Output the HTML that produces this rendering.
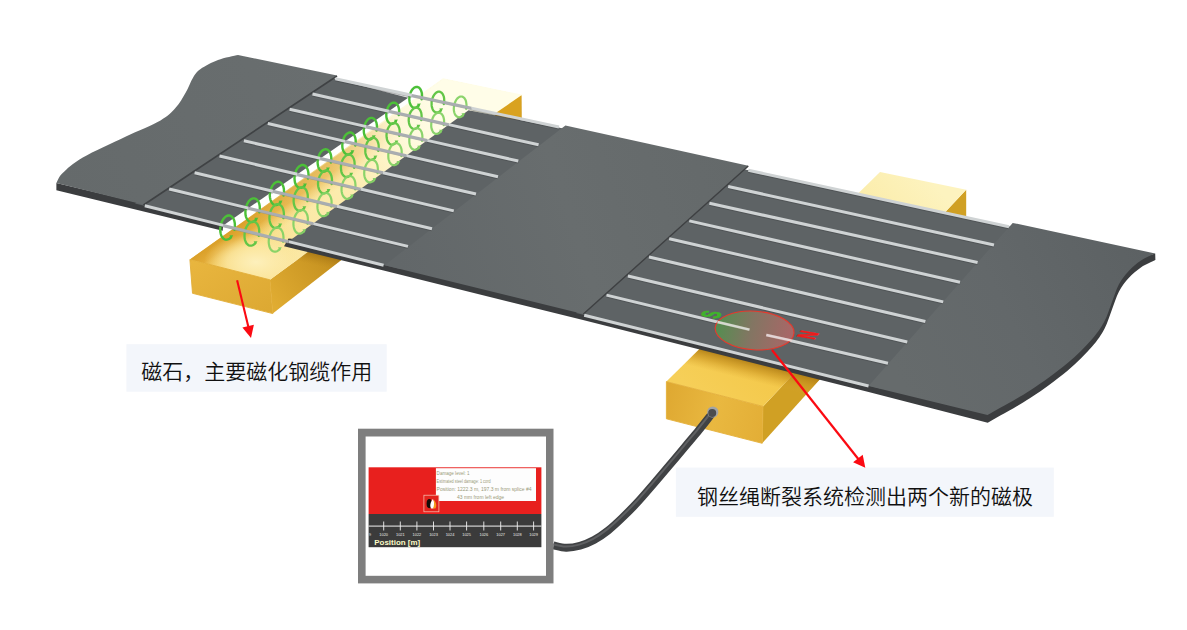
<!DOCTYPE html>
<html lang="zh-CN"><head><meta charset="utf-8"><title>钢丝绳断裂检测</title>
<style>
html,body{margin:0;padding:0;background:#ffffff;}
body{width:1187px;height:630px;overflow:hidden;font-family:"Liberation Sans","Noto Sans CJK SC",sans-serif;}
svg{display:block;}
</style></head><body>
<svg width="1187" height="630" viewBox="0 0 1187 630" role="img" aria-label="钢丝绳断裂检测示意图">
<defs>
<linearGradient id="gTopL" gradientUnits="userSpaceOnUse" x1="210" y1="262" x2="290" y2="285">
<stop offset="0" stop-color="#efc04c"/><stop offset="0.4" stop-color="#f8db80"/><stop offset="1" stop-color="#fbe6a0"/></linearGradient>
<linearGradient id="gShadL" gradientUnits="userSpaceOnUse" x1="298" y1="175" x2="318" y2="203.5">
<stop offset="0" stop-color="#d4971f" stop-opacity="1"/><stop offset="0.5" stop-color="#e2aa36" stop-opacity="0.95"/><stop offset="1" stop-color="#f2cf6a" stop-opacity="0"/></linearGradient>
<linearGradient id="gWashL" gradientUnits="userSpaceOnUse" x1="250" y1="235" x2="440" y2="100">
<stop offset="0" stop-color="#fff6c8" stop-opacity="0"/><stop offset="0.45" stop-color="#fff6c8" stop-opacity="0.35"/><stop offset="0.8" stop-color="#fffbe0" stop-opacity="0.95"/><stop offset="1" stop-color="#fffde8" stop-opacity="1"/></linearGradient>
<radialGradient id="gHiL" gradientUnits="userSpaceOnUse" cx="256" cy="262" r="52" gradientTransform="translate(256 262) scale(1 0.55) rotate(-12) translate(-256 -262)">
<stop offset="0" stop-color="#fdf0bc" stop-opacity="1"/><stop offset="0.55" stop-color="#fce9a6" stop-opacity="0.75"/><stop offset="1" stop-color="#fbe596" stop-opacity="0"/></radialGradient>
<linearGradient id="gFrontL" x1="0" y1="0" x2="1" y2="1">
<stop offset="0" stop-color="#e9b63f"/><stop offset="1" stop-color="#dca832"/></linearGradient>
<linearGradient id="gSideL" gradientUnits="userSpaceOnUse" x1="270" y1="300" x2="340" y2="250">
<stop offset="0" stop-color="#e0ac32"/><stop offset="1" stop-color="#c08c1c"/></linearGradient>
<linearGradient id="gTopR" gradientUnits="userSpaceOnUse" x1="700" y1="400" x2="930" y2="180">
<stop offset="0" stop-color="#f6cf58"/><stop offset="0.3" stop-color="#f3c646"/><stop offset="0.7" stop-color="#fae9a0"/><stop offset="1" stop-color="#fdf3bf"/></linearGradient>
<linearGradient id="gCoverL" gradientUnits="userSpaceOnUse" x1="60" y1="180" x2="330" y2="80">
<stop offset="0" stop-color="#656a6b"/><stop offset="1" stop-color="#696e6f"/></linearGradient>
<linearGradient id="gCoverR" gradientUnits="userSpaceOnUse" x1="900" y1="380" x2="1150" y2="260">
<stop offset="0" stop-color="#666b6c"/><stop offset="0.45" stop-color="#63686a"/><stop offset="1" stop-color="#5c6163"/></linearGradient>
<linearGradient id="gCoverC" gradientUnits="userSpaceOnUse" x1="400" y1="270" x2="740" y2="160">
<stop offset="0" stop-color="#626769"/><stop offset="0.5" stop-color="#686d6e"/><stop offset="1" stop-color="#64696a"/></linearGradient>
<linearGradient id="gEll" gradientUnits="userSpaceOnUse" x1="715" y1="325" x2="795" y2="337">
<stop offset="0" stop-color="#4f9a4a"/><stop offset="0.45" stop-color="#8c7a62"/><stop offset="1" stop-color="#c06668"/></linearGradient>
<linearGradient id="gShR" gradientUnits="userSpaceOnUse" x1="700" y1="347" x2="695" y2="367">
<stop offset="0" stop-color="#a87610" stop-opacity="0.95"/><stop offset="0.5" stop-color="#c8921e" stop-opacity="0.6"/><stop offset="1" stop-color="#d9a530" stop-opacity="0"/></linearGradient>
<linearGradient id="gShL" gradientUnits="userSpaceOnUse" x1="330" y1="255" x2="327" y2="268">
<stop offset="0" stop-color="#9a6c10" stop-opacity="0.8"/><stop offset="1" stop-color="#b8841a" stop-opacity="0"/></linearGradient>
<linearGradient id="gFrontR" gradientUnits="userSpaceOnUse" x1="666" y1="400" x2="766" y2="425">
<stop offset="0" stop-color="#dfa932"/><stop offset="0.5" stop-color="#e9b840"/><stop offset="1" stop-color="#e3ae36"/></linearGradient>
<clipPath id="cpR"><polygon points="666.4,381.6 763,406.4 762.2,443.3 966.2,217 966.2,189.8 880,172"/></clipPath>
<clipPath id="cpL"><polygon points="269.9,279.8 272.8,313.6 521.5,119 521.2,95.2"/></clipPath>
<linearGradient id="gWire" x1="0" y1="0" x2="0" y2="1">
<stop offset="0" stop-color="#5a5c5e"/><stop offset="1" stop-color="#2e3032"/></linearGradient>
</defs>
<rect width="1187" height="630" fill="#ffffff"/>
<polygon points="269.9,279.8 272.8,313.6 521.5,119.0 521.2,95.2" fill="url(#gSideL)"/>
<polygon points="189.9,259.5 269.9,279.8 521.2,95.2 443.2,79.0" fill="url(#gTopL)"/>
<polygon points="189.9,259.5 269.9,279.8 521.2,95.2 443.2,79.0" fill="url(#gShadL)"/>
<polygon points="189.9,259.5 269.9,279.8 521.2,95.2 443.2,79.0" fill="url(#gHiL)"/>
<polygon points="189.9,259.5 269.9,279.8 521.2,95.2 443.2,79.0" fill="url(#gWashL)" stroke="url(#gWashL)" stroke-width="1.4"/>
<polygon points="189.9,259.5 269.9,279.8 272.8,313.6 192.5,293.3" fill="url(#gFrontL)" stroke="#e2ae38" stroke-width="0.9" stroke-linejoin="round"/>
<polygon points="521.5,95.3 521.5,118.5 495.0,113.5" fill="#d9a21f"/>
<polygon points="763.0,406.4 762.2,443.3 966.2,217.0 966.2,189.8" fill="#d0a024"/>
<polygon points="666.4,381.6 763.0,406.4 966.2,189.8 880.0,172.0" fill="url(#gTopR)"/>
<polygon points="666.4,381.6 763.0,406.4 762.2,443.3 666.4,418.8" fill="url(#gFrontR)" stroke="#e4b03a" stroke-width="0.9" stroke-linejoin="round"/>
<g clip-path="url(#cpR)"><polygon points="586,316 868.6,390 868.6,414 586,340" fill="url(#gShR)"/></g>
<g clip-path="url(#cpL)"><polygon points="284,243 383.6,268 383.6,284 284,259" fill="url(#gShL)"/></g>
<path d="M56.4,183 L56.4,190.3 L222.7,230.7 L223.2,223.5 L144.8,204 Z" fill="#3b3d3f"/>
<path d="M288.5,238.6 L284.0,246.2 L383.6,270.6 L583,320 L868.6,392 L987.7,422.7 C994.8,418.6 1017.0,406.6 1030.2,398.0 C1043.5,389.4 1056.9,379.4 1067.2,370.9 C1077.5,362.3 1085.7,353.8 1091.9,346.8 C1098.1,339.7 1101.2,334.8 1104.5,328.7 C1107.8,322.5 1109.4,316.2 1111.8,310.0 C1114.2,303.8 1116.2,296.8 1119.0,291.4 C1121.8,286.1 1125.0,282.1 1128.7,278.0 C1132.4,274.0 1136.8,270.2 1141.2,267.2 C1145.7,264.2 1153.0,261.2 1155.4,260.0 L1155.2,253.4 L1000.0,300.0 Z" fill="#3b3d3f"/>
<polygon points="325.0,76.5 408.2,97.8 223.2,225.5 135.0,203.5" fill="#5e6365"/>
<polygon points="468.5,110.2 575.0,130.8 400.0,269.0 288.5,241.6" fill="#5e6365"/>
<polygon points="738.0,168.0 1020.0,229.0 880.0,388.5 576.0,313.0" fill="#5e6365"/>
<path d="M238.0,55.0 C234.7,55.8 224.2,57.7 218.0,60.0 C211.8,62.3 204.8,66.0 200.6,69.0 C196.4,72.0 195.5,73.7 193.0,77.7 C190.5,81.7 188.5,87.8 185.6,92.8 C182.7,97.8 179.8,103.2 175.6,107.8 C171.4,112.4 168.9,115.6 160.5,120.4 C152.1,125.2 138.3,130.5 125.4,136.7 C112.5,142.9 93.2,151.4 82.8,157.5 C72.3,163.6 67.1,168.8 62.7,173.0 C58.3,177.2 57.5,181.3 56.4,183.0 L143.0,204.6 L337.0,75.5 Z" fill="url(#gCoverL)"/>
<line x1="337" y1="76" x2="143.5" y2="205" stroke="#3f4244" stroke-width="1.6"/>
<polygon points="565.4,125.4 748.3,165.7 583.2,314.0 384.8,265.2" fill="url(#gCoverC)"/>
<line x1="748.3" y1="166" x2="583.4" y2="314" stroke="#3e4042" stroke-width="1.4"/>
<path d="M1012.7,222.9 L1155.2,253.4 C1152.8,254.6 1145.5,257.5 1141.0,260.5 C1136.5,263.5 1132.2,267.2 1128.5,271.2 C1124.8,275.2 1121.6,279.2 1118.8,284.5 C1116.0,289.8 1114.0,296.8 1111.6,303.0 C1109.2,309.2 1107.6,315.4 1104.3,321.5 C1101.0,327.6 1097.9,332.5 1091.7,339.5 C1085.5,346.5 1077.3,355.0 1067.0,363.5 C1056.7,372.0 1043.2,381.9 1030.0,390.5 C1016.8,399.1 994.6,411.0 987.5,415.1 L868.6,386.0 Z" fill="url(#gCoverR)"/>
<path d="M421.6,99.2 L421.9,97.3 L422.0,95.4 L421.9,93.5 L421.5,91.8 L421.0,90.3 L420.2,89.0 L419.4,88.0 L418.4,87.3 L417.3,86.9 L416.1,87.0 L414.9,87.3 L413.8,88.0 L412.7,89.1 L411.7,90.4 L410.9,91.9 L410.2,93.6 L409.7,95.5 L409.4,97.4 L409.3,99.3 L409.5,101.2 L409.8,102.9 L410.4,104.4 L411.1,105.7 L412.0,106.7 L413.0,107.4 L414.1,107.7 L415.2,107.7 L416.4,107.3 L417.6,106.6 L418.6,105.6" fill="none" stroke="#4cc038" stroke-width="2.4" stroke-opacity="1.0" stroke-linejoin="round" stroke-linecap="round"/>
<polygon points="417.0,103.7 420.8,103.6 418.8,107.2" fill="#4cc038" fill-opacity="1.0"/>
<path d="M443.8,104.0 L444.1,102.1 L444.2,100.1 L444.1,98.3 L443.8,96.6 L443.2,95.1 L442.5,93.8 L441.6,92.8 L440.6,92.1 L439.5,91.7 L438.3,91.7 L437.2,92.1 L436.0,92.8 L434.9,93.8 L434.0,95.2 L433.1,96.7 L432.4,98.4 L431.9,100.3 L431.6,102.2 L431.6,104.1 L431.7,105.9 L432.1,107.7 L432.6,109.2 L433.3,110.5 L434.2,111.5 L435.2,112.1 L436.3,112.5 L437.5,112.5 L438.6,112.1 L439.8,111.4 L440.9,110.3" fill="none" stroke="#63c647" stroke-width="2.3" stroke-opacity="1.0" stroke-linejoin="round" stroke-linecap="round"/>
<polygon points="439.3,108.4 443.1,108.3 441.1,111.9" fill="#63c647" fill-opacity="1.0"/>
<path d="M466.1,108.8 L466.4,106.9 L466.5,104.9 L466.3,103.1 L466.0,101.4 L465.5,99.8 L464.7,98.6 L463.8,97.6 L462.8,96.9 L461.7,96.5 L460.6,96.5 L459.4,96.9 L458.3,97.6 L457.2,98.6 L456.2,99.9 L455.4,101.5 L454.7,103.2 L454.2,105.1 L453.9,107.0 L453.8,108.9 L453.9,110.7 L454.3,112.5 L454.8,114.0 L455.6,115.3 L456.5,116.3 L457.5,116.9 L458.6,117.3 L459.7,117.3 L460.9,116.9 L462.0,116.2 L463.1,115.1" fill="none" stroke="#85d265" stroke-width="2.2" stroke-opacity="0.95" stroke-linejoin="round" stroke-linecap="round"/>
<polygon points="461.5,113.2 465.3,113.1 463.3,116.7" fill="#85d265" fill-opacity="0.95"/>
<path d="M398.8,115.1 L399.1,113.2 L399.2,111.2 L399.0,109.3 L398.7,107.6 L398.1,106.0 L397.4,104.7 L396.5,103.7 L395.5,103.0 L394.3,102.6 L393.2,102.7 L392.0,103.0 L390.8,103.7 L389.7,104.8 L388.7,106.1 L387.8,107.7 L387.1,109.5 L386.6,111.4 L386.3,113.3 L386.3,115.3 L386.4,117.1 L386.8,118.9 L387.3,120.4 L388.1,121.8 L389.0,122.8 L390.0,123.5 L391.1,123.8 L392.3,123.8 L393.5,123.4 L394.6,122.7 L395.7,121.6" fill="none" stroke="#4cc038" stroke-width="2.4" stroke-opacity="1.0" stroke-linejoin="round" stroke-linecap="round"/>
<polygon points="394.1,119.7 397.9,119.6 395.9,123.2" fill="#4cc038" fill-opacity="1.0"/>
<path d="M421.3,120.2 L421.6,118.2 L421.6,116.3 L421.5,114.4 L421.2,112.6 L420.6,111.1 L419.9,109.8 L419.0,108.7 L417.9,108.0 L416.8,107.7 L415.6,107.7 L414.4,108.1 L413.3,108.8 L412.2,109.8 L411.2,111.2 L410.3,112.7 L409.6,114.5 L409.1,116.4 L408.8,118.4 L408.7,120.3 L408.9,122.2 L409.2,123.9 L409.8,125.5 L410.5,126.8 L411.4,127.8 L412.5,128.5 L413.6,128.9 L414.8,128.8 L416.0,128.5 L417.1,127.7 L418.2,126.7" fill="none" stroke="#63c647" stroke-width="2.3" stroke-opacity="1.0" stroke-linejoin="round" stroke-linecap="round"/>
<polygon points="416.6,124.8 420.4,124.7 418.4,128.3" fill="#63c647" fill-opacity="1.0"/>
<path d="M443.7,125.2 L444.0,123.3 L444.1,121.3 L444.0,119.4 L443.6,117.7 L443.1,116.1 L442.3,114.8 L441.4,113.8 L440.4,113.1 L439.3,112.7 L438.1,112.8 L436.9,113.1 L435.8,113.8 L434.6,114.9 L433.6,116.2 L432.8,117.8 L432.1,119.6 L431.6,121.5 L431.3,123.4 L431.2,125.4 L431.3,127.2 L431.7,129.0 L432.3,130.5 L433.0,131.9 L433.9,132.9 L434.9,133.6 L436.1,133.9 L437.2,133.9 L438.4,133.5 L439.6,132.8 L440.7,131.7" fill="none" stroke="#85d265" stroke-width="2.2" stroke-opacity="0.95" stroke-linejoin="round" stroke-linecap="round"/>
<polygon points="439.1,129.8 442.9,129.7 440.9,133.3" fill="#85d265" fill-opacity="0.95"/>
<path d="M376.6,130.6 L376.9,128.6 L377.0,126.7 L376.8,124.7 L376.5,122.9 L375.9,121.4 L375.1,120.0 L374.2,119.0 L373.2,118.3 L372.0,117.9 L370.8,117.9 L369.6,118.3 L368.4,119.0 L367.3,120.1 L366.3,121.5 L365.4,123.1 L364.7,124.9 L364.2,126.8 L363.9,128.8 L363.8,130.8 L363.9,132.7 L364.3,134.5 L364.9,136.1 L365.6,137.4 L366.5,138.4 L367.6,139.1 L368.7,139.5 L369.9,139.5 L371.2,139.1 L372.3,138.3 L373.5,137.3" fill="none" stroke="#4cc038" stroke-width="2.4" stroke-opacity="1.0" stroke-linejoin="round" stroke-linecap="round"/>
<polygon points="371.9,135.4 375.7,135.3 373.7,138.9" fill="#4cc038" fill-opacity="1.0"/>
<path d="M399.3,135.8 L399.6,133.8 L399.7,131.8 L399.6,129.9 L399.2,128.1 L398.6,126.5 L397.9,125.2 L397.0,124.1 L395.9,123.4 L394.8,123.1 L393.6,123.1 L392.4,123.4 L391.2,124.2 L390.0,125.2 L389.0,126.6 L388.1,128.2 L387.4,130.0 L386.9,131.9 L386.6,133.9 L386.5,135.9 L386.7,137.8 L387.0,139.6 L387.6,141.2 L388.4,142.5 L389.3,143.6 L390.3,144.3 L391.5,144.6 L392.7,144.6 L393.9,144.2 L395.1,143.5 L396.2,142.4" fill="none" stroke="#63c647" stroke-width="2.3" stroke-opacity="1.0" stroke-linejoin="round" stroke-linecap="round"/>
<polygon points="394.6,140.5 398.4,140.4 396.4,144.0" fill="#63c647" fill-opacity="1.0"/>
<path d="M422.0,140.9 L422.3,138.9 L422.4,137.0 L422.3,135.0 L421.9,133.2 L421.4,131.7 L420.6,130.3 L419.7,129.3 L418.7,128.6 L417.5,128.2 L416.3,128.2 L415.1,128.6 L413.9,129.3 L412.8,130.4 L411.8,131.8 L410.9,133.4 L410.2,135.2 L409.6,137.1 L409.3,139.1 L409.3,141.1 L409.4,143.0 L409.8,144.8 L410.3,146.4 L411.1,147.7 L412.0,148.7 L413.1,149.4 L414.2,149.8 L415.4,149.8 L416.6,149.4 L417.8,148.6 L418.9,147.6" fill="none" stroke="#85d265" stroke-width="2.2" stroke-opacity="0.95" stroke-linejoin="round" stroke-linecap="round"/>
<polygon points="417.3,145.7 421.1,145.6 419.1,149.2" fill="#85d265" fill-opacity="0.95"/>
<path d="M355.3,145.5 L355.6,143.5 L355.7,141.4 L355.6,139.5 L355.2,137.6 L354.6,136.0 L353.9,134.7 L352.9,133.6 L351.9,132.9 L350.7,132.5 L349.5,132.5 L348.2,132.9 L347.0,133.7 L345.9,134.7 L344.8,136.1 L343.9,137.8 L343.2,139.6 L342.7,141.6 L342.4,143.6 L342.3,145.6 L342.4,147.6 L342.8,149.4 L343.4,151.0 L344.2,152.4 L345.1,153.4 L346.2,154.2 L347.3,154.5 L348.6,154.5 L349.8,154.1 L351.0,153.3 L352.2,152.2" fill="none" stroke="#4cc038" stroke-width="2.4" stroke-opacity="1.0" stroke-linejoin="round" stroke-linecap="round"/>
<polygon points="350.6,150.3 354.4,150.2 352.4,153.8" fill="#4cc038" fill-opacity="1.0"/>
<path d="M378.3,150.8 L378.6,148.8 L378.7,146.7 L378.6,144.8 L378.2,143.0 L377.6,141.3 L376.9,140.0 L375.9,138.9 L374.9,138.2 L373.7,137.8 L372.5,137.8 L371.2,138.2 L370.0,139.0 L368.9,140.1 L367.8,141.4 L366.9,143.1 L366.2,144.9 L365.7,146.9 L365.4,148.9 L365.3,150.9 L365.4,152.9 L365.8,154.7 L366.4,156.3 L367.1,157.7 L368.1,158.8 L369.2,159.5 L370.3,159.8 L371.5,159.8 L372.8,159.4 L374.0,158.7 L375.1,157.6" fill="none" stroke="#63c647" stroke-width="2.3" stroke-opacity="1.0" stroke-linejoin="round" stroke-linecap="round"/>
<polygon points="373.5,155.7 377.3,155.6 375.3,159.2" fill="#63c647" fill-opacity="1.0"/>
<path d="M401.3,156.1 L401.6,154.1 L401.7,152.1 L401.6,150.1 L401.2,148.3 L400.6,146.7 L399.8,145.3 L398.9,144.2 L397.8,143.5 L396.7,143.1 L395.5,143.2 L394.2,143.5 L393.0,144.3 L391.8,145.4 L390.8,146.8 L389.9,148.4 L389.2,150.2 L388.7,152.2 L388.3,154.2 L388.3,156.3 L388.4,158.2 L388.8,160.0 L389.4,161.7 L390.1,163.0 L391.1,164.1 L392.1,164.8 L393.3,165.2 L394.5,165.1 L395.8,164.7 L397.0,164.0 L398.1,162.9" fill="none" stroke="#85d265" stroke-width="2.2" stroke-opacity="0.95" stroke-linejoin="round" stroke-linecap="round"/>
<polygon points="396.5,161.0 400.3,160.9 398.3,164.5" fill="#85d265" fill-opacity="0.95"/>
<path d="M330.9,162.5 L331.2,160.4 L331.3,158.3 L331.2,156.4 L330.8,154.5 L330.2,152.8 L329.4,151.5 L328.5,150.4 L327.4,149.6 L326.2,149.3 L325.0,149.3 L323.7,149.7 L322.5,150.4 L321.3,151.5 L320.2,152.9 L319.3,154.6 L318.6,156.5 L318.0,158.5 L317.7,160.6 L317.6,162.6 L317.8,164.6 L318.2,166.5 L318.7,168.1 L319.5,169.5 L320.5,170.6 L321.6,171.3 L322.8,171.7 L324.0,171.7 L325.3,171.3 L326.5,170.5 L327.7,169.4" fill="none" stroke="#4cc038" stroke-width="2.4" stroke-opacity="1.0" stroke-linejoin="round" stroke-linecap="round"/>
<polygon points="326.1,167.5 329.9,167.4 327.9,171.0" fill="#4cc038" fill-opacity="1.0"/>
<path d="M354.2,167.8 L354.5,165.8 L354.6,163.7 L354.5,161.7 L354.1,159.8 L353.5,158.2 L352.7,156.8 L351.8,155.7 L350.7,155.0 L349.5,154.6 L348.2,154.6 L347.0,155.0 L345.7,155.8 L344.6,156.9 L343.5,158.3 L342.6,159.9 L341.8,161.8 L341.3,163.8 L341.0,165.9 L340.9,168.0 L341.1,170.0 L341.4,171.8 L342.0,173.5 L342.8,174.8 L343.8,175.9 L344.9,176.7 L346.0,177.0 L347.3,177.0 L348.6,176.6 L349.8,175.8 L351.0,174.7" fill="none" stroke="#63c647" stroke-width="2.3" stroke-opacity="1.0" stroke-linejoin="round" stroke-linecap="round"/>
<polygon points="349.4,172.8 353.2,172.7 351.2,176.3" fill="#63c647" fill-opacity="1.0"/>
<path d="M377.5,173.2 L377.8,171.1 L377.9,169.0 L377.7,167.0 L377.4,165.2 L376.8,163.5 L376.0,162.1 L375.0,161.0 L373.9,160.3 L372.8,159.9 L371.5,159.9 L370.2,160.3 L369.0,161.1 L367.8,162.2 L366.8,163.6 L365.9,165.3 L365.1,167.2 L364.6,169.2 L364.3,171.2 L364.2,173.3 L364.3,175.3 L364.7,177.1 L365.3,178.8 L366.1,180.2 L367.0,181.3 L368.1,182.0 L369.3,182.4 L370.6,182.3 L371.8,181.9 L373.1,181.2 L374.2,180.0" fill="none" stroke="#85d265" stroke-width="2.2" stroke-opacity="0.95" stroke-linejoin="round" stroke-linecap="round"/>
<polygon points="372.6,178.1 376.4,178.0 374.4,181.6" fill="#85d265" fill-opacity="0.95"/>
<path d="M308.0,178.5 L308.4,176.4 L308.5,174.2 L308.3,172.2 L307.9,170.3 L307.3,168.6 L306.5,167.2 L305.6,166.1 L304.4,165.4 L303.2,165.0 L302.0,165.0 L300.7,165.4 L299.4,166.2 L298.2,167.3 L297.1,168.7 L296.2,170.4 L295.5,172.3 L294.9,174.4 L294.6,176.5 L294.5,178.6 L294.7,180.6 L295.0,182.5 L295.6,184.2 L296.4,185.6 L297.4,186.7 L298.5,187.5 L299.7,187.8 L301.0,187.8 L302.3,187.4 L303.6,186.6 L304.7,185.5" fill="none" stroke="#4cc038" stroke-width="2.4" stroke-opacity="1.0" stroke-linejoin="round" stroke-linecap="round"/>
<polygon points="303.1,183.6 306.9,183.5 304.9,187.1" fill="#4cc038" fill-opacity="1.0"/>
<path d="M331.6,184.0 L331.9,181.9 L332.0,179.8 L331.8,177.7 L331.4,175.8 L330.8,174.1 L330.0,172.7 L329.1,171.6 L328.0,170.9 L326.8,170.5 L325.5,170.5 L324.2,170.9 L322.9,171.7 L321.7,172.8 L320.7,174.3 L319.7,176.0 L319.0,177.9 L318.4,179.9 L318.1,182.0 L318.0,184.1 L318.2,186.2 L318.6,188.0 L319.2,189.7 L320.0,191.1 L320.9,192.2 L322.0,193.0 L323.3,193.3 L324.5,193.3 L325.8,192.9 L327.1,192.1 L328.3,191.0" fill="none" stroke="#63c647" stroke-width="2.3" stroke-opacity="1.0" stroke-linejoin="round" stroke-linecap="round"/>
<polygon points="326.7,189.1 330.5,189.0 328.5,192.6" fill="#63c647" fill-opacity="1.0"/>
<path d="M355.1,189.5 L355.4,187.4 L355.5,185.3 L355.3,183.2 L355.0,181.3 L354.4,179.7 L353.6,178.2 L352.6,177.1 L351.5,176.4 L350.3,176.0 L349.0,176.0 L347.7,176.4 L346.5,177.2 L345.3,178.3 L344.2,179.8 L343.3,181.5 L342.5,183.4 L342.0,185.4 L341.6,187.5 L341.5,189.6 L341.7,191.7 L342.1,193.6 L342.7,195.2 L343.5,196.6 L344.5,197.7 L345.6,198.5 L346.8,198.9 L348.0,198.8 L349.3,198.4 L350.6,197.6 L351.8,196.5" fill="none" stroke="#85d265" stroke-width="2.2" stroke-opacity="0.95" stroke-linejoin="round" stroke-linecap="round"/>
<polygon points="350.2,194.6 354.0,194.5 352.0,198.1" fill="#85d265" fill-opacity="0.95"/>
<path d="M283.6,195.5 L284.0,193.3 L284.0,191.2 L283.9,189.1 L283.5,187.2 L282.9,185.5 L282.1,184.0 L281.1,182.9 L280.0,182.1 L278.7,181.8 L277.4,181.8 L276.1,182.2 L274.8,183.0 L273.6,184.1 L272.5,185.6 L271.6,187.3 L270.8,189.3 L270.3,191.3 L269.9,193.5 L269.8,195.6 L270.0,197.7 L270.4,199.6 L271.0,201.3 L271.8,202.8 L272.8,203.9 L273.9,204.7 L275.2,205.0 L276.5,205.0 L277.8,204.6 L279.1,203.8 L280.3,202.6" fill="none" stroke="#4cc038" stroke-width="2.4" stroke-opacity="1.0" stroke-linejoin="round" stroke-linecap="round"/>
<polygon points="278.7,200.7 282.5,200.6 280.5,204.2" fill="#4cc038" fill-opacity="1.0"/>
<path d="M307.4,201.1 L307.7,198.9 L307.8,196.8 L307.7,194.7 L307.3,192.8 L306.7,191.1 L305.9,189.6 L304.9,188.5 L303.8,187.7 L302.5,187.4 L301.2,187.4 L299.9,187.8 L298.6,188.6 L297.4,189.7 L296.3,191.2 L295.4,192.9 L294.6,194.9 L294.0,196.9 L293.7,199.1 L293.6,201.2 L293.8,203.3 L294.2,205.2 L294.8,206.9 L295.6,208.4 L296.6,209.5 L297.7,210.3 L299.0,210.6 L300.3,210.6 L301.6,210.2 L302.9,209.4 L304.1,208.2" fill="none" stroke="#63c647" stroke-width="2.3" stroke-opacity="1.0" stroke-linejoin="round" stroke-linecap="round"/>
<polygon points="302.5,206.3 306.3,206.2 304.3,209.8" fill="#63c647" fill-opacity="1.0"/>
<path d="M331.2,206.7 L331.5,204.5 L331.6,202.4 L331.5,200.3 L331.1,198.4 L330.5,196.7 L329.7,195.2 L328.7,194.1 L327.5,193.3 L326.3,193.0 L325.0,193.0 L323.7,193.4 L322.4,194.2 L321.2,195.3 L320.1,196.8 L319.2,198.5 L318.4,200.5 L317.8,202.5 L317.5,204.7 L317.4,206.8 L317.6,208.9 L318.0,210.8 L318.6,212.5 L319.4,214.0 L320.4,215.1 L321.5,215.9 L322.7,216.2 L324.0,216.2 L325.4,215.8 L326.6,215.0 L327.9,213.8" fill="none" stroke="#85d265" stroke-width="2.2" stroke-opacity="0.95" stroke-linejoin="round" stroke-linecap="round"/>
<polygon points="326.3,211.9 330.1,211.8 328.1,215.4" fill="#85d265" fill-opacity="0.95"/>
<path d="M259.4,212.4 L259.7,210.2 L259.8,208.0 L259.7,205.9 L259.3,203.9 L258.7,202.2 L257.8,200.7 L256.8,199.6 L255.7,198.8 L254.4,198.4 L253.1,198.4 L251.8,198.8 L250.5,199.6 L249.2,200.8 L248.1,202.3 L247.1,204.1 L246.4,206.0 L245.8,208.2 L245.5,210.3 L245.4,212.5 L245.5,214.6 L245.9,216.6 L246.6,218.3 L247.4,219.8 L248.4,220.9 L249.5,221.7 L250.8,222.1 L252.1,222.1 L253.5,221.7 L254.8,220.8 L256.0,219.7" fill="none" stroke="#4cc038" stroke-width="2.4" stroke-opacity="1.0" stroke-linejoin="round" stroke-linecap="round"/>
<polygon points="254.4,217.8 258.2,217.7 256.2,221.3" fill="#4cc038" fill-opacity="1.0"/>
<path d="M283.4,218.2 L283.8,216.0 L283.9,213.8 L283.7,211.7 L283.3,209.7 L282.7,208.0 L281.9,206.5 L280.9,205.4 L279.7,204.6 L278.5,204.2 L277.1,204.2 L275.8,204.6 L274.5,205.4 L273.3,206.6 L272.1,208.1 L271.2,209.8 L270.4,211.8 L269.8,213.9 L269.5,216.1 L269.4,218.3 L269.6,220.4 L270.0,222.4 L270.6,224.1 L271.4,225.6 L272.4,226.7 L273.6,227.5 L274.8,227.9 L276.2,227.9 L277.5,227.4 L278.8,226.6 L280.0,225.4" fill="none" stroke="#63c647" stroke-width="2.3" stroke-opacity="1.0" stroke-linejoin="round" stroke-linecap="round"/>
<polygon points="278.4,223.5 282.2,223.4 280.2,227.0" fill="#63c647" fill-opacity="1.0"/>
<path d="M307.5,223.9 L307.8,221.7 L307.9,219.6 L307.8,217.5 L307.4,215.5 L306.7,213.7 L305.9,212.3 L304.9,211.1 L303.8,210.3 L302.5,210.0 L301.2,210.0 L299.8,210.4 L298.5,211.2 L297.3,212.4 L296.2,213.9 L295.2,215.6 L294.4,217.6 L293.9,219.7 L293.5,221.9 L293.4,224.1 L293.6,226.2 L294.0,228.1 L294.6,229.9 L295.5,231.4 L296.5,232.5 L297.6,233.3 L298.9,233.7 L300.2,233.6 L301.5,233.2 L302.8,232.4 L304.1,231.2" fill="none" stroke="#85d265" stroke-width="2.2" stroke-opacity="0.95" stroke-linejoin="round" stroke-linecap="round"/>
<polygon points="302.5,229.3 306.3,229.2 304.3,232.8" fill="#85d265" fill-opacity="0.95"/>
<path d="M234.5,229.8 L234.8,227.5 L234.9,225.3 L234.8,223.2 L234.4,221.2 L233.8,219.4 L232.9,217.9 L231.9,216.7 L230.7,215.9 L229.4,215.5 L228.1,215.5 L226.7,216.0 L225.4,216.8 L224.2,218.0 L223.0,219.5 L222.0,221.3 L221.2,223.3 L220.7,225.5 L220.3,227.7 L220.2,229.9 L220.4,232.1 L220.8,234.1 L221.4,235.8 L222.3,237.3 L223.3,238.5 L224.5,239.3 L225.8,239.7 L227.1,239.6 L228.5,239.2 L229.8,238.4 L231.0,237.2" fill="none" stroke="#4cc038" stroke-width="2.4" stroke-opacity="1.0" stroke-linejoin="round" stroke-linecap="round"/>
<polygon points="229.4,235.3 233.2,235.2 231.2,238.8" fill="#4cc038" fill-opacity="1.0"/>
<path d="M258.8,235.8 L259.1,233.6 L259.2,231.3 L259.1,229.2 L258.7,227.2 L258.0,225.4 L257.2,223.9 L256.2,222.8 L255.0,222.0 L253.7,221.6 L252.4,221.6 L251.0,222.0 L249.7,222.8 L248.4,224.0 L247.3,225.5 L246.3,227.3 L245.5,229.3 L244.9,231.5 L244.6,233.7 L244.5,235.9 L244.6,238.1 L245.0,240.1 L245.7,241.9 L246.5,243.4 L247.6,244.5 L248.7,245.3 L250.0,245.7 L251.4,245.7 L252.7,245.2 L254.0,244.4 L255.3,243.2" fill="none" stroke="#63c647" stroke-width="2.3" stroke-opacity="1.0" stroke-linejoin="round" stroke-linecap="round"/>
<polygon points="253.7,241.3 257.5,241.2 255.5,244.8" fill="#63c647" fill-opacity="1.0"/>
<path d="M283.0,241.8 L283.4,239.6 L283.5,237.4 L283.3,235.2 L282.9,233.2 L282.3,231.5 L281.4,230.0 L280.4,228.8 L279.2,228.0 L278.0,227.6 L276.6,227.6 L275.3,228.0 L273.9,228.9 L272.7,230.1 L271.5,231.6 L270.6,233.4 L269.8,235.4 L269.2,237.5 L268.8,239.8 L268.7,242.0 L268.9,244.1 L269.3,246.1 L269.9,247.9 L270.8,249.4 L271.8,250.5 L273.0,251.3 L274.3,251.7 L275.6,251.7 L277.0,251.3 L278.3,250.4 L279.6,249.2" fill="none" stroke="#85d265" stroke-width="2.2" stroke-opacity="0.95" stroke-linejoin="round" stroke-linecap="round"/>
<polygon points="278.0,247.3 281.8,247.2 279.8,250.8" fill="#85d265" fill-opacity="0.95"/>
<line x1="335.3" y1="80.0" x2="411.8" y2="96.5" stroke="#3a3c3e" stroke-width="2.6" stroke-opacity="0.4"/>
<line x1="335.3" y1="78.8" x2="411.8" y2="95.3" stroke="#cfd3d4" stroke-width="3.0"/>
<line x1="471.4" y1="109.3" x2="559.0" y2="128.2" stroke="#3a3c3e" stroke-width="2.6" stroke-opacity="0.4"/>
<line x1="471.4" y1="108.1" x2="559.0" y2="127.0" stroke="#cfd3d4" stroke-width="3.0"/>
<line x1="411.8" y1="96.4" x2="471.4" y2="109.2" stroke="#8a8e92" stroke-width="1.6" stroke-opacity="0.7"/>
<line x1="411.8" y1="95.3" x2="471.4" y2="108.1" stroke="#a9adb1" stroke-width="2.8"/>
<line x1="312.5" y1="95.2" x2="388.9" y2="112.4" stroke="#3a3c3e" stroke-width="2.6" stroke-opacity="0.4"/>
<line x1="312.5" y1="94.0" x2="388.9" y2="111.2" stroke="#cfd3d4" stroke-width="3.0"/>
<line x1="448.8" y1="125.8" x2="538.6" y2="146.0" stroke="#3a3c3e" stroke-width="2.6" stroke-opacity="0.4"/>
<line x1="448.8" y1="124.6" x2="538.6" y2="144.8" stroke="#cfd3d4" stroke-width="3.0"/>
<line x1="388.9" y1="112.3" x2="448.8" y2="125.7" stroke="#8a8e92" stroke-width="1.6" stroke-opacity="0.7"/>
<line x1="388.9" y1="111.2" x2="448.8" y2="124.6" stroke="#a9adb1" stroke-width="2.8"/>
<line x1="289.6" y1="110.4" x2="366.5" y2="127.8" stroke="#3a3c3e" stroke-width="2.6" stroke-opacity="0.4"/>
<line x1="289.6" y1="109.2" x2="366.5" y2="126.6" stroke="#cfd3d4" stroke-width="3.0"/>
<line x1="427.2" y1="141.6" x2="518.3" y2="162.2" stroke="#3a3c3e" stroke-width="2.6" stroke-opacity="0.4"/>
<line x1="427.2" y1="140.4" x2="518.3" y2="161.0" stroke="#cfd3d4" stroke-width="3.0"/>
<line x1="366.5" y1="127.7" x2="427.2" y2="141.5" stroke="#8a8e92" stroke-width="1.6" stroke-opacity="0.7"/>
<line x1="366.5" y1="126.6" x2="427.2" y2="140.4" stroke="#a9adb1" stroke-width="2.8"/>
<line x1="267.8" y1="124.7" x2="345.1" y2="142.6" stroke="#3a3c3e" stroke-width="2.6" stroke-opacity="0.4"/>
<line x1="267.8" y1="123.5" x2="345.1" y2="141.4" stroke="#cfd3d4" stroke-width="3.0"/>
<line x1="406.3" y1="156.8" x2="498.0" y2="178.0" stroke="#3a3c3e" stroke-width="2.6" stroke-opacity="0.4"/>
<line x1="406.3" y1="155.6" x2="498.0" y2="176.8" stroke="#cfd3d4" stroke-width="3.0"/>
<line x1="345.1" y1="142.5" x2="406.3" y2="156.7" stroke="#8a8e92" stroke-width="1.6" stroke-opacity="0.7"/>
<line x1="345.1" y1="141.4" x2="406.3" y2="155.6" stroke="#a9adb1" stroke-width="2.8"/>
<line x1="243.9" y1="142.0" x2="320.5" y2="159.6" stroke="#3a3c3e" stroke-width="2.6" stroke-opacity="0.4"/>
<line x1="243.9" y1="140.8" x2="320.5" y2="158.4" stroke="#cfd3d4" stroke-width="3.0"/>
<line x1="382.9" y1="173.9" x2="476.0" y2="195.2" stroke="#3a3c3e" stroke-width="2.6" stroke-opacity="0.4"/>
<line x1="382.9" y1="172.7" x2="476.0" y2="194.0" stroke="#cfd3d4" stroke-width="3.0"/>
<line x1="320.5" y1="159.5" x2="382.9" y2="173.8" stroke="#8a8e92" stroke-width="1.6" stroke-opacity="0.7"/>
<line x1="320.5" y1="158.4" x2="382.9" y2="172.7" stroke="#a9adb1" stroke-width="2.8"/>
<line x1="219.5" y1="157.2" x2="297.4" y2="175.5" stroke="#3a3c3e" stroke-width="2.6" stroke-opacity="0.4"/>
<line x1="219.5" y1="156.0" x2="297.4" y2="174.3" stroke="#cfd3d4" stroke-width="3.0"/>
<line x1="360.5" y1="190.2" x2="453.8" y2="212.1" stroke="#3a3c3e" stroke-width="2.6" stroke-opacity="0.4"/>
<line x1="360.5" y1="189.0" x2="453.8" y2="210.9" stroke="#cfd3d4" stroke-width="3.0"/>
<line x1="297.4" y1="175.4" x2="360.5" y2="190.1" stroke="#8a8e92" stroke-width="1.6" stroke-opacity="0.7"/>
<line x1="297.4" y1="174.3" x2="360.5" y2="189.0" stroke="#a9adb1" stroke-width="2.8"/>
<line x1="194.6" y1="174.0" x2="272.9" y2="192.4" stroke="#3a3c3e" stroke-width="2.6" stroke-opacity="0.4"/>
<line x1="194.6" y1="172.8" x2="272.9" y2="191.2" stroke="#cfd3d4" stroke-width="3.0"/>
<line x1="336.9" y1="207.5" x2="432.0" y2="229.9" stroke="#3a3c3e" stroke-width="2.6" stroke-opacity="0.4"/>
<line x1="336.9" y1="206.3" x2="432.0" y2="228.7" stroke="#cfd3d4" stroke-width="3.0"/>
<line x1="272.9" y1="192.3" x2="336.9" y2="207.4" stroke="#8a8e92" stroke-width="1.6" stroke-opacity="0.7"/>
<line x1="272.9" y1="191.2" x2="336.9" y2="206.3" stroke="#a9adb1" stroke-width="2.8"/>
<line x1="169.2" y1="190.2" x2="248.5" y2="209.3" stroke="#3a3c3e" stroke-width="2.6" stroke-opacity="0.4"/>
<line x1="169.2" y1="189.0" x2="248.5" y2="208.1" stroke="#cfd3d4" stroke-width="3.0"/>
<line x1="313.2" y1="224.8" x2="408.0" y2="247.6" stroke="#3a3c3e" stroke-width="2.6" stroke-opacity="0.4"/>
<line x1="313.2" y1="223.6" x2="408.0" y2="246.4" stroke="#cfd3d4" stroke-width="3.0"/>
<line x1="248.5" y1="209.2" x2="313.2" y2="224.7" stroke="#8a8e92" stroke-width="1.6" stroke-opacity="0.7"/>
<line x1="248.5" y1="208.1" x2="313.2" y2="223.6" stroke="#a9adb1" stroke-width="2.8"/>
<line x1="144.8" y1="207.0" x2="223.4" y2="226.6" stroke="#3a3c3e" stroke-width="2.6" stroke-opacity="0.4"/>
<line x1="144.8" y1="205.8" x2="223.4" y2="225.4" stroke="#cfd3d4" stroke-width="3.0"/>
<line x1="288.6" y1="242.8" x2="383.6" y2="266.4" stroke="#3a3c3e" stroke-width="2.6" stroke-opacity="0.4"/>
<line x1="288.6" y1="241.6" x2="383.6" y2="265.2" stroke="#cfd3d4" stroke-width="3.0"/>
<line x1="223.4" y1="226.5" x2="288.6" y2="242.7" stroke="#8a8e92" stroke-width="1.6" stroke-opacity="0.7"/>
<line x1="223.4" y1="225.4" x2="288.6" y2="241.6" stroke="#a9adb1" stroke-width="2.8"/>
<line x1="748.3" y1="171.4" x2="1009.0" y2="227.9" stroke="#3a3c3e" stroke-width="2.6" stroke-opacity="0.4"/>
<line x1="748.3" y1="170.2" x2="1009.0" y2="226.7" stroke="#cfd3d4" stroke-width="3.0"/>
<line x1="728.2" y1="187.7" x2="994.0" y2="246.2" stroke="#3a3c3e" stroke-width="2.6" stroke-opacity="0.4"/>
<line x1="728.2" y1="186.5" x2="994.0" y2="245.0" stroke="#cfd3d4" stroke-width="3.0"/>
<line x1="709.4" y1="204.5" x2="977.6" y2="263.7" stroke="#3a3c3e" stroke-width="2.6" stroke-opacity="0.4"/>
<line x1="709.4" y1="203.3" x2="977.6" y2="262.5" stroke="#cfd3d4" stroke-width="3.0"/>
<line x1="689.3" y1="222.1" x2="960.0" y2="283.5" stroke="#3a3c3e" stroke-width="2.6" stroke-opacity="0.4"/>
<line x1="689.3" y1="220.9" x2="960.0" y2="282.3" stroke="#cfd3d4" stroke-width="3.0"/>
<line x1="669.2" y1="239.9" x2="943.2" y2="303.1" stroke="#3a3c3e" stroke-width="2.6" stroke-opacity="0.4"/>
<line x1="669.2" y1="238.7" x2="943.2" y2="301.9" stroke="#cfd3d4" stroke-width="3.0"/>
<line x1="649.0" y1="258.2" x2="925.4" y2="322.7" stroke="#3a3c3e" stroke-width="2.6" stroke-opacity="0.4"/>
<line x1="649.0" y1="257.0" x2="925.4" y2="321.5" stroke="#cfd3d4" stroke-width="3.0"/>
<line x1="627.9" y1="277.2" x2="907.3" y2="343.2" stroke="#3a3c3e" stroke-width="2.6" stroke-opacity="0.4"/>
<line x1="627.9" y1="276.0" x2="907.3" y2="342.0" stroke="#cfd3d4" stroke-width="3.0"/>
<line x1="606.5" y1="296.3" x2="749.5" y2="330.9" stroke="#3a3c3e" stroke-width="2.6" stroke-opacity="0.4"/>
<line x1="606.5" y1="295.1" x2="749.5" y2="329.7" stroke="#cfd3d4" stroke-width="3.0"/>
<line x1="766.3" y1="336.2" x2="888.0" y2="364.5" stroke="#3a3c3e" stroke-width="2.6" stroke-opacity="0.4"/>
<line x1="766.3" y1="335.0" x2="888.0" y2="363.3" stroke="#cfd3d4" stroke-width="3.0"/>
<line x1="584.2" y1="316.5" x2="868.6" y2="387.2" stroke="#3a3c3e" stroke-width="2.6" stroke-opacity="0.4"/>
<line x1="584.2" y1="315.3" x2="868.6" y2="386.0" stroke="#cfd3d4" stroke-width="3.0"/>
<ellipse cx="754.6" cy="330.5" rx="39.5" ry="19.3" transform="rotate(4 754.6 330.5)" fill="url(#gEll)" fill-opacity="0.8" stroke="#e8392c" stroke-width="1.1"/>
<line x1="717.5" y1="322" x2="749.5" y2="329.7" stroke="#d6d8d0" stroke-width="2.4"/>
<line x1="766.3" y1="335.0" x2="792" y2="340.6" stroke="#e2d4d4" stroke-width="2.4"/>
<text transform="matrix(0.436,-0.573,1.478,0.257,720.0,315.9)" font-family="'Liberation Sans',sans-serif" font-weight="bold" font-size="17" fill="#3fb32a" stroke="#3fb32a" stroke-width="0.7" stroke-linejoin="round" text-anchor="middle">S</text>
<text transform="matrix(0.436,-0.573,1.478,0.257,816.5,336.6)" font-family="'Liberation Sans',sans-serif" font-weight="bold" font-size="17" fill="#f01a1a" stroke="#f01a1a" stroke-width="0.7" stroke-linejoin="round" text-anchor="middle">N</text>
<path d="M553.5,545.4 C555.6,545.8 561.6,547.7 566.0,547.8 C570.4,547.9 575.3,547.1 580.0,545.8 C584.7,544.5 589.3,542.5 594.0,540.0 C598.7,537.5 603.3,534.3 608.0,530.6 C612.7,526.9 617.1,522.7 622.0,518.0 C626.9,513.3 632.4,507.9 637.6,502.2 C642.9,496.5 648.2,490.1 653.5,484.0 C658.8,477.9 664.1,471.6 669.4,465.3 C674.7,459.1 680.3,452.4 685.2,446.5 C690.1,440.6 694.5,435.6 699.0,430.0 C703.5,424.4 710.2,415.8 712.5,413.0" fill="none" stroke="#404244" stroke-width="7.9" stroke-linecap="butt"/>
<path d="M552.7,544.2 C554.8,544.6 560.8,546.5 565.2,546.6 C569.6,546.7 574.5,545.9 579.2,544.6 C583.9,543.3 588.5,541.3 593.2,538.8 C597.9,536.3 602.5,533.1 607.2,529.4 C611.9,525.7 616.3,521.5 621.2,516.8 C626.1,512.1 631.6,506.7 636.8,501.0 C642.1,495.3 647.4,488.9 652.7,482.8 C658.0,476.7 663.3,470.4 668.6,464.1 C673.9,457.9 679.5,451.2 684.4,445.3 C689.3,439.4 693.7,434.4 698.2,428.8 C702.8,423.2 709.5,414.6 711.7,411.8" fill="none" stroke="#66686a" stroke-width="2" stroke-opacity="0.8"/>
<circle cx="712.8" cy="412" r="5.6" fill="#a2a4a5"/><circle cx="712.2" cy="412.9" r="4" fill="#4a4c4e"/>
<rect x="358" y="428.7" width="195.5" height="154.7" fill="#7e7e7e"/>
<rect x="365.6" y="436.5" width="180.4" height="139.3" fill="#ffffff"/>
<rect x="368.6" y="467.3" width="172.8" height="46.7" fill="#e8201e"/>
<rect x="368.6" y="514" width="172.8" height="33.2" fill="#3b3b3b"/>
<rect x="435.9" y="468.2" width="100.1" height="32.8" fill="#fdfdfd"/>
<rect x="423.9" y="495.2" width="15" height="16.6" fill="#e2231e" stroke="#f6c9b8" stroke-width="0.7"/>
<ellipse cx="429.3" cy="503.6" rx="2.7" ry="4.6" fill="#140c08"/><path d="M431.2,508.5 c-1.8,-2.6 -0.8,-6.6 1.6,-9.6 c1.6,2.6 2.4,6.4 0.6,9.6 z" fill="#ffffff"/><path d="M433.6,499.6 c2.4,2.4 3.6,6.2 1.8,9 l-2.4,0 c1.4,-3 1.2,-6 0.6,-9 z" fill="#f59a1e"/>
<line x1="368.6" y1="526.1" x2="541.4" y2="526.1" stroke="#f2f2f2" stroke-width="1"/>
<line x1="383.7" y1="521.5" x2="383.7" y2="530.5" stroke="#f2f2f2" stroke-width="0.9"/>
<text x="383.7" y="535.8" font-family="'Liberation Sans',sans-serif" font-size="3.9" fill="#ececec" text-anchor="middle">1020</text>
<line x1="400.3" y1="521.5" x2="400.3" y2="530.5" stroke="#f2f2f2" stroke-width="0.9"/>
<text x="400.3" y="535.8" font-family="'Liberation Sans',sans-serif" font-size="3.9" fill="#ececec" text-anchor="middle">1021</text>
<line x1="416.9" y1="521.5" x2="416.9" y2="530.5" stroke="#f2f2f2" stroke-width="0.9"/>
<text x="416.9" y="535.8" font-family="'Liberation Sans',sans-serif" font-size="3.9" fill="#ececec" text-anchor="middle">1022</text>
<line x1="433.5" y1="521.5" x2="433.5" y2="530.5" stroke="#f2f2f2" stroke-width="0.9"/>
<text x="433.5" y="535.8" font-family="'Liberation Sans',sans-serif" font-size="3.9" fill="#ececec" text-anchor="middle">1023</text>
<line x1="450.0" y1="521.5" x2="450.0" y2="530.5" stroke="#f2f2f2" stroke-width="0.9"/>
<text x="450.0" y="535.8" font-family="'Liberation Sans',sans-serif" font-size="3.9" fill="#ececec" text-anchor="middle">1024</text>
<line x1="466.6" y1="521.5" x2="466.6" y2="530.5" stroke="#f2f2f2" stroke-width="0.9"/>
<text x="466.6" y="535.8" font-family="'Liberation Sans',sans-serif" font-size="3.9" fill="#ececec" text-anchor="middle">1025</text>
<line x1="483.8" y1="521.5" x2="483.8" y2="530.5" stroke="#f2f2f2" stroke-width="0.9"/>
<text x="483.8" y="535.8" font-family="'Liberation Sans',sans-serif" font-size="3.9" fill="#ececec" text-anchor="middle">1026</text>
<line x1="500.7" y1="521.5" x2="500.7" y2="530.5" stroke="#f2f2f2" stroke-width="0.9"/>
<text x="500.7" y="535.8" font-family="'Liberation Sans',sans-serif" font-size="3.9" fill="#ececec" text-anchor="middle">1027</text>
<line x1="517.3" y1="521.5" x2="517.3" y2="530.5" stroke="#f2f2f2" stroke-width="0.9"/>
<text x="517.3" y="535.8" font-family="'Liberation Sans',sans-serif" font-size="3.9" fill="#ececec" text-anchor="middle">1028</text>
<line x1="533.6" y1="521.5" x2="533.6" y2="530.5" stroke="#f2f2f2" stroke-width="0.9"/>
<text x="533.6" y="535.8" font-family="'Liberation Sans',sans-serif" font-size="3.9" fill="#ececec" text-anchor="middle">1029</text>
<text x="369" y="535.8" font-family="'Liberation Sans',sans-serif" font-size="3.8" fill="#e6e6e6">9</text>
<text x="374.3" y="545.1" font-family="'Liberation Sans',sans-serif" font-weight="bold" font-size="7.95" fill="#fdfbc8">Position [m]</text>
<text x="436.6" y="475.3" font-family="'Liberation Sans',sans-serif" font-size="4.9" fill="#9a9a7a" textLength="33" lengthAdjust="spacingAndGlyphs">Damage level: 1</text>
<text x="436.6" y="483.0" font-family="'Liberation Sans',sans-serif" font-size="4.9" fill="#9a9a7a" textLength="54" lengthAdjust="spacingAndGlyphs">Estimated steel damage: 1 cord</text>
<text x="436.6" y="490.7" font-family="'Liberation Sans',sans-serif" font-size="4.9" fill="#9a9a7a" textLength="95" lengthAdjust="spacingAndGlyphs">Position: 1222.3 m, 197.3 m from splice #4</text>
<text x="457" y="498.6" font-family="'Liberation Sans',sans-serif" font-size="4.9" fill="#9a9a7a" textLength="47" lengthAdjust="spacingAndGlyphs">43 mm from left edge</text>
<rect x="126.4" y="344.2" width="260.3" height="47.5" fill="#f3f6fb"/>
<rect x="675.9" y="467.6" width="377.9" height="49.2" fill="#f3f6fb"/>
<text x="141.3" y="379.0" font-family="'Liberation Sans','Noto Sans CJK SC',sans-serif" font-size="21" font-weight="350" fill="#101010">磁石，主要磁化钢缆作用</text>
<text x="697" y="503.6" font-family="'Liberation Sans','Noto Sans CJK SC',sans-serif" font-size="21" font-weight="350" fill="#101010">钢丝绳断裂系统检测出两个新的磁极</text>
<line x1="237.1" y1="280.2" x2="248.4" y2="327.1" stroke="#fb0a12" stroke-width="2.1"/>
<polygon points="251.0,338.0 242.4,327.5 253.9,324.8" fill="#fb0a12"/>
<line x1="772.0" y1="350.0" x2="858.5" y2="459.3" stroke="#fb0a12" stroke-width="2.2"/>
<polygon points="865.3,467.8 853.1,462.3 862.7,454.7" fill="#fb0a12"/>
</svg>
</body></html>
